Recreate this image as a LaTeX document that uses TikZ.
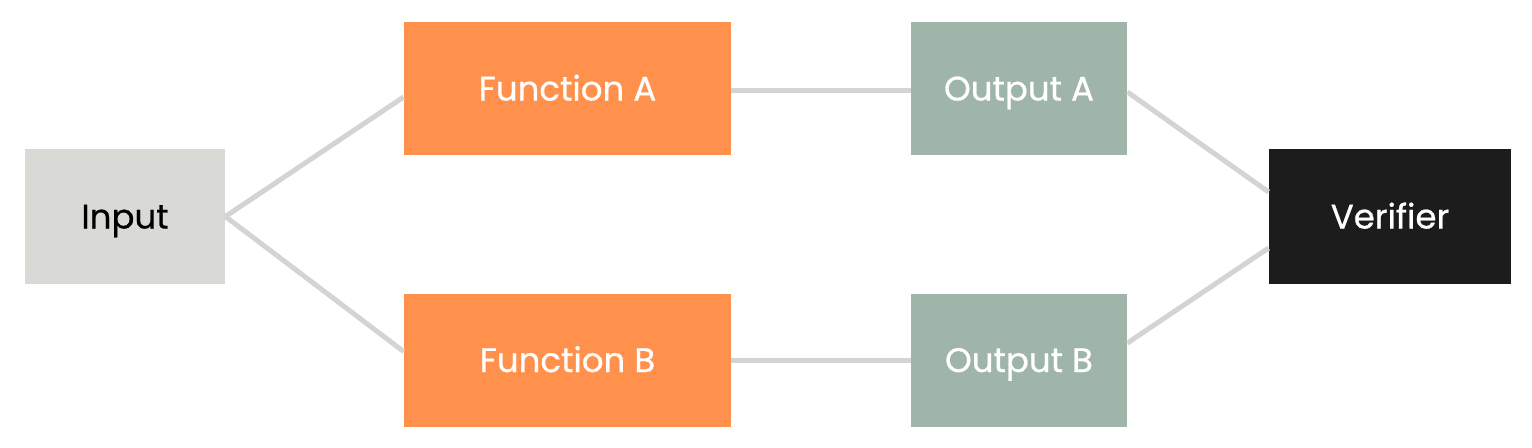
\documentclass[tikz,border=0pt]{standalone}
\usepackage{fontspec}
\setmainfont{Poppins}
\newfontfamily\boxfont{Poppins}[FakeBold=0.7]
\tikzset{
    box/.style={rectangle, inner sep=0pt, text height=12pt, text depth=0pt, font=\boxfont\fontsize{17}{20}\selectfont},
    inbox/.style={box, fill=ingray, text=black, minimum width=100pt, minimum height=67.5pt},
    funbox/.style={box, fill=funorange, text=white, minimum width=163.5pt, minimum height=66.5pt},
    outbox/.style={box, fill=outgreen, text=white, minimum width=108pt, minimum height=66.5pt},
    verbox/.style={box, fill=verblack, text=white, minimum width=121pt, minimum height=67.5pt},
    edge/.style={-, draw=edgegray, line width=2.5pt},
}
\definecolor{ingray}{HTML}{D9DAD5}
\definecolor{funorange}{HTML}{FF914D}
\definecolor{outgreen}{HTML}{9FB5A9}
\definecolor{verblack}{HTML}{1C1C1C}
\definecolor{edgegray}{HTML}{D4D4D4}
\begin{document}
\begin{tikzpicture}[x=0.5pt, y=-0.5pt]
    \useasboundingbox (0,0) rectangle (1532,447);
    \node[inbox] (in) at (125, 216.5) {Input};
    \node[funbox] (fa) at (567.5, 88.5) {Function A};
    \node[funbox] (fb) at (567.5, 360) {Function B};
    \node[outbox] (oa) at (1019, 88.5) {Output A};
    \node[outbox] (ob) at (1019, 360) {Output B};
    \node[verbox] (ver) at (1390, 216.5) {Verifier};
    \draw[edge] (in.east) -- ([yshift=-4.25pt]fa.west);
    \draw[edge] (in.east) -- ([yshift=4.25pt]fb.west);
    \draw[edge] ([yshift=-0.75pt]fa.east) -- ([yshift=-0.75pt]oa.west);
    \draw[edge] (fb.east) -- (ob.west);
    \draw[edge] ([yshift=-1.75pt]oa.east) -- ([yshift=12.25pt]ver.west);
    \draw[edge] ([yshift=8.5pt]ob.east) -- ([yshift=-15.75pt]ver.west);
\end{tikzpicture}
\end{document}
